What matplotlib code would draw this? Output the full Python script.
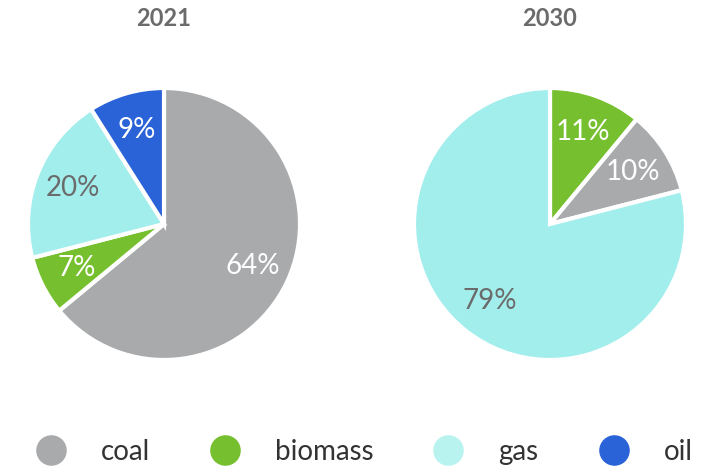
import matplotlib
matplotlib.use("Agg")
import matplotlib.pyplot as plt
from matplotlib.lines import Line2D

plt.rcParams["font.family"] = ["Lato", "DejaVu Sans"]

# data
years = ["2021", "2030"]
labels_2021 = ["coal", "biomass", "gas", "oil"]
shares_2021 = [64, 7, 20, 9]
labels_2030 = ["biomass", "coal", "gas"]
shares_2030 = [11, 10, 79]
legend_labels = ["coal", "biomass", "gas", "oil"]

COLORS = {
    "coal": "#a9aaac",
    "biomass": "#76bf2f",
    "gas": "#a2eeec",
    "oil": "#2a62d8",
}
LEGEND_COLORS = {
    "coal": "#a9aaac",
    "biomass": "#76bf2f",
    "gas": "#b8f3ef",
    "oil": "#2a62d8",
}
PCT_COLOR = {"coal": "white", "biomass": "white", "gas": "#6b6b6b", "oil": "white"}

W, H = 715, 471
fig = plt.figure(figsize=(W / 100, H / 100), dpi=100)

# pie centres (px) and radius
R = 136
centres = [(164, 224), (550, 224)]
data = [(labels_2021, shares_2021), (labels_2030, shares_2030)]

for (cx, cy), year, (labs, vals) in zip(centres, years, data):
    ax = fig.add_axes([(cx - R) / W, 1 - (cy + R) / H, 2 * R / W, 2 * R / H])
    wedges, _, autotexts = ax.pie(
        vals,
        colors=[COLORS[l] for l in labs],
        startangle=90,
        counterclock=False,
        radius=1,
        autopct="%d%%",
        pctdistance=0.72,
        wedgeprops=dict(edgecolor="white", linewidth=3),
        textprops=dict(fontsize=20),
    )
    for t, l in zip(autotexts, labs):
        t.set_color(PCT_COLOR[l])
    ax.set_xlim(-1, 1)
    ax.set_ylim(-1, 1)
    ax.set_aspect("equal")
    fig.text(cx / W, 1 - 18 / H, year, ha="center", va="center",
             fontsize=17, fontweight="bold", color="#6b6b6b")

handles = [Line2D([], [], marker="o", linestyle="none", markersize=22,
                  markerfacecolor=LEGEND_COLORS[l], markeredgecolor="none")
           for l in legend_labels]
fig.legend(handles, legend_labels, loc="center", bbox_to_anchor=(0.508, 1 - 452 / H),
           ncol=4, frameon=False, fontsize=20, handlelength=1.2, handletextpad=1.2,
           columnspacing=2.1, labelcolor="#333333")

fig.savefig("out.png", dpi=100)
